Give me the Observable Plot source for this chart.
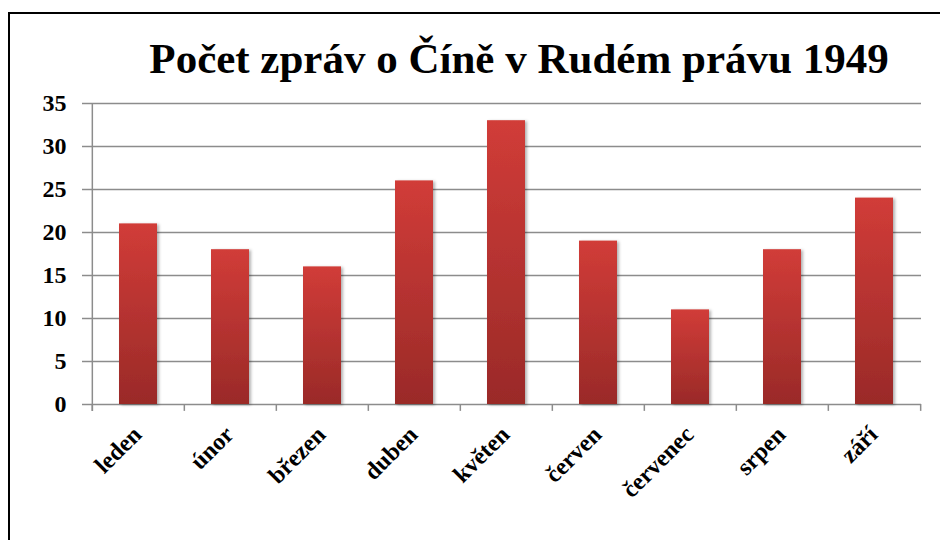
<!DOCTYPE html>
<html>
<head>
<meta charset="utf-8">
<script src="https://cdn.jsdelivr.net/npm/d3@7"></script>
<script src="https://cdn.jsdelivr.net/npm/@observablehq/plot@0.6"></script>
<style>
  html, body { margin: 0; padding: 0; background: #fff; width: 940px; height: 540px; overflow: hidden; }
  #wrap { position: relative; width: 940px; height: 540px; }
  #border { position: absolute; left: 8px; top: 12px; width: 2000px; height: 2000px; border-left: 2px solid #000; border-top: 2px solid #000; }
  #chart { position: absolute; left: 0; top: 0; }
</style>
</head>
<body>
<div id="wrap">
  <div id="border"></div>
  <div id="chart"></div>
</div>
<script>
const months = ["leden", "únor", "březen", "duben", "květen", "červen", "červenec", "srpen", "září"];
const counts = [21, 18, 16, 26, 33, 19, 11, 18, 24];
const yTicks = [0, 5, 10, 15, 20, 25, 30, 35];
const titleText = "Počet zpráv o Číně v Rudém právu 1949";

const data = months.map((m, i) => ({month: m, count: counts[i]}));

const W = 940, H = 540, ML = 90, MR = 19, MT = 103, MB = 136;
const step = (W - ML - MR) / months.length;
const gridColor = "#8c8c8c";
const font = "'Liberation Serif', 'Times New Roman', serif";

const chart = Plot.plot({
  width: W,
  height: H,
  marginLeft: ML,
  marginRight: MR,
  marginTop: MT,
  marginBottom: MB,
  style: {fontFamily: font, fontWeight: "bold", fontSize: "24px", color: "#000", background: "transparent", overflow: "visible"},
  x: {domain: months, paddingInner: 0.59, paddingOuter: 0.295, axis: null},
  y: {domain: [0, 35], axis: null},
  marks: [
    Plot.ruleY(yTicks, {y: d => d, stroke: gridColor, strokeWidth: 1.5}),
    Plot.axisY(yTicks, {label: null, tickSize: 8, tickPadding: 16, stroke: gridColor, strokeWidth: 1.5, fill: "#000", fontSize: 24, fontWeight: "bold", fontFamily: font}),
    Plot.ruleX(months, {x: d => d, dx: -step / 2, y1: -0.8, y2: 0, stroke: gridColor, strokeWidth: 1.5}),
    Plot.ruleX([months[months.length - 1]], {x: d => d, dx: step / 2, y1: -0.8, y2: 0, stroke: gridColor, strokeWidth: 1.5}),
    Plot.ruleX([months[0]], {x: d => d, dx: -step / 2, y1: -0.8, y2: 35, stroke: gridColor, strokeWidth: 1.5}),
    Plot.barY(data, {x: "month", y: "count", fill: "url(#barGrad)"}),
    Plot.text(data, {x: "month", y: 0, text: "month", rotate: -45, textAnchor: "end", dx: -1, dy: 26, fontSize: 24, fontWeight: "bold", fontFamily: font, fill: "#000"}),
    Plot.text([titleText], {frameAnchor: "top", text: d => d, dx: 13, dy: -31, lineAnchor: "bottom", fontSize: 43, fontWeight: "bold", fontFamily: font, fill: "#000"})
  ]
});

const svg = d3.select(chart);
const defs = svg.insert("defs", ":first-child");
const grad = defs.append("linearGradient").attr("id", "barGrad").attr("x1", 0).attr("y1", 0).attr("x2", 0).attr("y2", 1);
grad.append("stop").attr("offset", "0%").attr("stop-color", "#d13c38");
grad.append("stop").attr("offset", "100%").attr("stop-color", "#9a2a28");
const flt = defs.append("filter").attr("id", "barShadow").attr("x", "-20%").attr("y", "-5%").attr("width", "150%").attr("height", "115%");
flt.append("feDropShadow").attr("dx", 2).attr("dy", 1).attr("stdDeviation", 1.8).attr("flood-color", "#000").attr("flood-opacity", 0.3);
svg.selectAll("g[aria-label='bar']").attr("filter", "url(#barShadow)");

document.getElementById("chart").appendChild(chart);
</script>
</body>
</html>
